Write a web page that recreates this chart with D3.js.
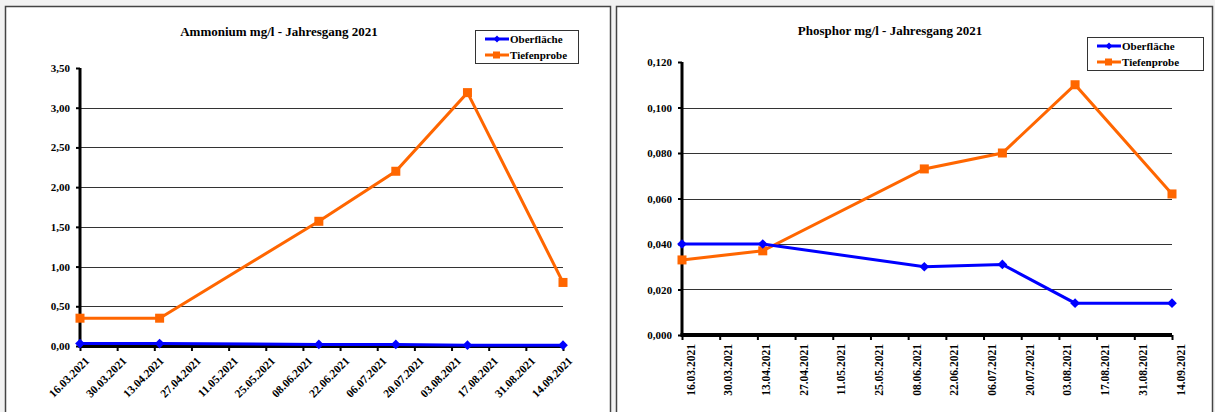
<!DOCTYPE html>
<html lang="de">
<head>
    <meta charset="UTF-8">
    <script src="https://d3js.org/d3.v7.min.js"></script>
    <style>
        body { margin: 0; background: #f2f2f2; }
        svg { display: block; }
        text { font-family: "Liberation Serif", "Times New Roman", serif; font-weight: bold; fill: #000; }
    </style>
    <title>Jahresgang 2021</title>
</head>
<body>
    <script>
        // sampling dates and x tick labels
        const sampleDates = ["16.03.2021", "15.04.2021", "14.06.2021", "13.07.2021", "09.08.2021", "14.09.2021"];
        const tickLabels = ["16.03.2021", "30.03.2021", "13.04.2021", "27.04.2021", "11.05.2021", "25.05.2021",
            "08.06.2021", "22.06.2021", "06.07.2021", "20.07.2021", "03.08.2021", "17.08.2021", "31.08.2021", "14.09.2021"];

        // Ammonium mg/l
        const ammoniumOberflaeche = [0.03, 0.03, 0.02, 0.02, 0.01, 0.01];
        const ammoniumTiefenprobe = [0.35, 0.35, 1.57, 2.20, 3.19, 0.80];
        const ammoniumTicks = [0, 0.5, 1, 1.5, 2, 2.5, 3, 3.5];

        // Phosphor mg/l
        const phosphorOberflaeche = [0.040, 0.040, 0.030, 0.031, 0.014, 0.014];
        const phosphorTiefenprobe = [0.033, 0.037, 0.073, 0.080, 0.110, 0.062];
        const phosphorTicks = [0, 0.02, 0.04, 0.06, 0.08, 0.10, 0.12];

        const seriesNames = ["Oberfläche", "Tiefenprobe"];
        const blue = "#0000ff", orange = "#ff6600";

        const width = 1215, height = 412;
        const parse = d3.timeParse("%d.%m.%Y");

        const svg = d3.select("body").append("svg")
            .attr("width", width)
            .attr("height", height);

        // chart panels
        svg.append("rect").attr("x", 5.5).attr("y", 6.5).attr("width", 605).attr("height", 420)
            .attr("fill", "#fff").attr("stroke", "#444").attr("stroke-width", 1.5);
        svg.append("rect").attr("x", 616.5).attr("y", 6.5).attr("width", 596).attr("height", 420)
            .attr("fill", "#fff").attr("stroke", "#444").attr("stroke-width", 1.5);

        function drawChart(opt) {
            const g = svg.append("g");

            const x = d3.scaleTime()
                .domain([parse(tickLabels[0]), parse(tickLabels[tickLabels.length - 1])])
                .range([opt.x0, opt.x1]);
            const y = d3.scaleLinear()
                .domain([0, opt.ticks[opt.ticks.length - 1]])
                .range([opt.y0, opt.y1]);
            const fmt = v => d3.format("." + opt.decimals + "f")(v).replace(".", ",");

            // grid lines (not at top and bottom)
            g.selectAll(".grid")
                .data(opt.ticks.slice(1, -1))
                .enter().append("line")
                .attr("x1", opt.x0).attr("x2", opt.x1)
                .attr("y1", d => Math.round(y(d)) + 0.5).attr("y2", d => Math.round(y(d)) + 0.5)
                .attr("stroke", "#333").attr("stroke-width", 1);

            // y axis
            const yAxis = g.append("g")
                .attr("transform", `translate(${opt.x0},0)`)
                .call(d3.axisLeft(y).tickValues(opt.ticks).tickFormat(fmt).tickSize(4).tickPadding(6));
            yAxis.select(".domain").attr("stroke-width", 3).attr("d", `M0,${opt.y1}V${opt.y0}`);
            yAxis.selectAll(".tick line").attr("stroke-width", 2);
            yAxis.selectAll(".tick text").style("font-size", "11px").style("font-family", null);

            // x axis
            const xAxis = g.append("g")
                .attr("transform", `translate(0,${opt.y0})`)
                .call(d3.axisBottom(x).tickValues(tickLabels.map(parse))
                    .tickFormat(d3.timeFormat("%d.%m.%Y")).tickSize(5));
            xAxis.select(".domain").attr("stroke-width", 4).attr("d", `M${opt.x0 - 1.5},0H${opt.x1}`);
            xAxis.selectAll(".tick line").attr("stroke-width", 2);
            const xt = xAxis.selectAll(".tick text").style("font-size", "11.5px").style("font-family", null);
            if (opt.rotate === 45) {
                xt.attr("text-anchor", "end").attr("dy", null)
                    .attr("transform", "translate(4,10) rotate(-45)");
            } else {
                xt.attr("text-anchor", "end").attr("dy", null)
                    .attr("transform", "translate(4,9) rotate(-90)");
            }

            const line = d3.line()
                .x((d, i) => x(parse(sampleDates[i])))
                .y(d => y(d));

            // Tiefenprobe
            g.append("path").datum(opt.tief)
                .attr("d", line).attr("fill", "none")
                .attr("stroke", orange).attr("stroke-width", 3);
            g.selectAll(".sq").data(opt.tief).enter().append("rect")
                .attr("x", (d, i) => x(parse(sampleDates[i])) - 4.5)
                .attr("y", d => y(d) - 4.5)
                .attr("width", 9).attr("height", 9).attr("fill", orange);

            // Oberfläche
            g.append("path").datum(opt.ober)
                .attr("d", line).attr("fill", "none")
                .attr("stroke", blue).attr("stroke-width", 3);
            g.selectAll(".dia").data(opt.ober).enter().append("path")
                .attr("d", d3.symbol(d3.symbolDiamond2, 60))
                .attr("transform", (d, i) => `translate(${x(parse(sampleDates[i]))},${y(d)})`)
                .attr("fill", blue);

            // title
            g.append("text")
                .attr("x", opt.titleX).attr("y", opt.titleY)
                .attr("text-anchor", "middle")
                .style("font-size", "13px")
                .text(opt.title);

            // legend
            const lg = g.append("g").attr("transform", `translate(${opt.legend[0]},${opt.legend[1]})`);
            lg.append("rect").attr("x", 0.5).attr("y", 0.5).attr("width", opt.legend[2]).attr("height", 33)
                .attr("fill", "#fff").attr("stroke", "#333").attr("stroke-width", 1);
            [blue, orange].forEach((c, i) => {
                const yy = 9 + i * 16;
                lg.append("line").attr("x1", 10).attr("x2", 34).attr("y1", yy).attr("y2", yy)
                    .attr("stroke", c).attr("stroke-width", 3);
                if (i === 0) {
                    lg.append("path").attr("d", d3.symbol(d3.symbolDiamond2, 30))
                        .attr("transform", `translate(22,${yy})`).attr("fill", c);
                } else {
                    lg.append("rect").attr("x", 18).attr("y", yy - 3.5).attr("width", 7).attr("height", 7).attr("fill", c);
                }
                lg.append("text").attr("x", 35).attr("y", yy + 4)
                    .style("font-size", "11px")
                    .text(seriesNames[i]);
            });
        }

        drawChart({
            title: "Ammonium mg/l - Jahresgang 2021",
            titleX: 279, titleY: 36,
            x0: 80, x1: 563, y0: 346, y1: 68,
            ticks: ammoniumTicks, decimals: 2,
            ober: ammoniumOberflaeche, tief: ammoniumTiefenprobe,
            rotate: 45,
            legend: [475, 30, 103]
        });

        drawChart({
            title: "Phosphor mg/l - Jahresgang 2021",
            titleX: 890, titleY: 35,
            x0: 682, x1: 1172, y0: 335, y1: 62,
            ticks: phosphorTicks, decimals: 3,
            ober: phosphorOberflaeche, tief: phosphorTiefenprobe,
            rotate: 90,
            legend: [1087, 37, 116]
        });
    </script>
</body>
</html>
